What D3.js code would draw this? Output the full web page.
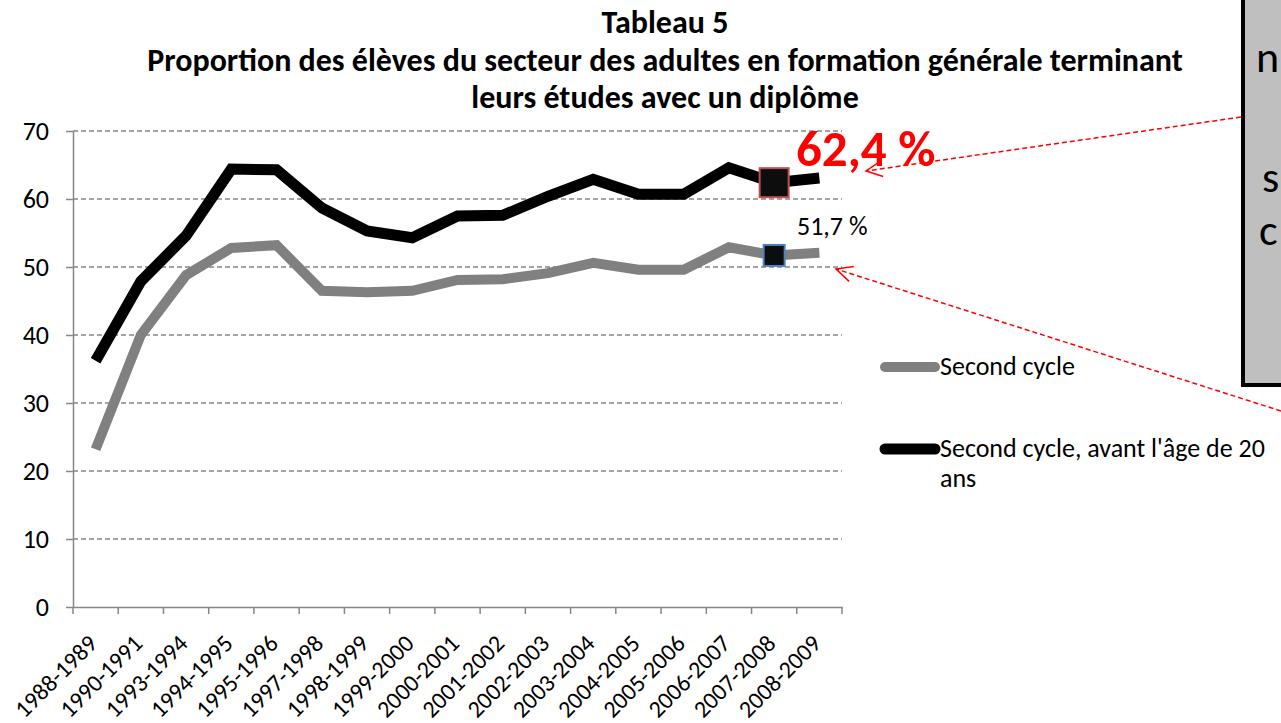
<!DOCTYPE html>
<html>
<head>
<meta charset="utf-8">
<script src="https://cdn.jsdelivr.net/npm/d3@7"></script>
<style>
  body { margin: 0; background: #fff; }
  svg { display: block; }
</style>
</head>
<body>
<div id="chart"></div>
<script>
// Data
const years = ["1988-1989", "1990-1991", "1993-1994", "1994-1995", "1995-1996", "1997-1998",
  "1998-1999", "1999-2000", "2000-2001", "2001-2002", "2002-2003", "2003-2004",
  "2004-2005", "2005-2006", "2006-2007", "2007-2008", "2008-2009"];
const secondCycle = [23.2, 40.0, 48.8, 52.8, 53.2, 46.5, 46.3, 46.5, 48.1, 48.2, 49.1, 50.6,
  49.6, 49.6, 52.9, 51.7, 52.1];
const avant20 = [36.2, 47.9, 54.6, 64.4, 64.3, 58.7, 55.3, 54.3, 57.5, 57.6, 60.4, 62.9,
  60.7, 60.7, 64.6, 62.4, 63.1];
const yTicks = [0, 10, 20, 30, 40, 50, 60, 70];
const titleLines = ["Tableau 5",
  "Proportion des élèves du secteur des adultes en formation générale terminant",
  "leurs études avec un diplôme"];
const seriesNames = ["Second cycle", "Second cycle, avant l'âge de 20"];
const highlightYear = "2007-2008";

const W = 1281, H = 723;
const margin = { top: 131, left: 73, right: 439, bottom: 116 };
const font = "Carlito, Lato, 'Open Sans', sans-serif";

const svg = d3.select('#chart').append('svg')
  .attr('width', W).attr('height', H)
  .style('font-family', font);

const x = d3.scaleBand().domain(years).range([margin.left, W - margin.right]);
const y = d3.scaleLinear().domain([0, 70]).range([H - margin.bottom, margin.top]);
const cx = d => x(d) + x.bandwidth() / 2;

// Title
svg.append('g').selectAll('text')
  .data(titleLines)
  .enter().append('text')
  .attr('x', 665)
  .attr('y', (d, i) => 33 + i * 37.5)
  .attr('text-anchor', 'middle')
  .style('font-weight', 'bold')
  .style('font-size', '32px')
  .style('fill', '#000')
  .text(d => d);

// Gridlines
svg.append('g').selectAll('line')
  .data(yTicks.filter(t => t > 0))
  .enter().append('line')
  .attr('x1', margin.left).attr('x2', W - margin.right)
  .attr('y1', d => y(d)).attr('y2', d => y(d))
  .style('stroke', '#868686')
  .style('stroke-width', 1.3)
  .style('stroke-dasharray', '5,3');

// Axes
const yAxis = svg.append('g')
  .attr('transform', `translate(${margin.left},0)`)
  .call(d3.axisLeft(y).tickValues(yTicks).tickSize(7).tickPadding(17).tickSizeOuter(0));
yAxis.selectAll('path').style('stroke', '#868686').style('stroke-width', 1.5);
yAxis.selectAll('line').style('stroke', '#868686').style('stroke-width', 1.5);
yAxis.selectAll('text').style('font-size', '26px').style('font-family', font).style('fill', '#000');

const xAxis = svg.append('g')
  .attr('transform', `translate(0,${y(0)})`)
  .call(d3.axisBottom(x).tickSize(0).tickPadding(0));
xAxis.select('path').style('stroke', '#868686').style('stroke-width', 1.5);
xAxis.selectAll('text')
  .style('font-size', '24px').style('font-family', font).style('fill', '#000')
  .style('text-anchor', 'end')
  .attr('y', 0)
  .attr('dy', 0)
  .attr('transform', 'translate(3,38) rotate(-45)');
// tick marks at band boundaries
svg.append('g').selectAll('line')
  .data(years.concat(['end']))
  .enter().append('line')
  .attr('x1', (d, i) => margin.left + i * x.step())
  .attr('x2', (d, i) => margin.left + i * x.step())
  .attr('y1', y(0)).attr('y2', y(0) + 7)
  .style('stroke', '#868686').style('stroke-width', 1.5);

// Lines
const line = d3.line().x((d, i) => cx(years[i])).y(d => y(d));
svg.append('path').datum(secondCycle)
  .attr('d', line)
  .style('fill', 'none').style('stroke', '#808080').style('stroke-width', 10);
svg.append('path').datum(avant20)
  .attr('d', line)
  .style('fill', 'none').style('stroke', '#000').style('stroke-width', 11);

// Highlight markers
const hi = years.indexOf(highlightYear);
svg.append('rect')
  .attr('x', cx(highlightYear) - 14.5).attr('y', y(avant20[hi]) - 14.5)
  .attr('width', 29).attr('height', 29)
  .style('fill', '#0d0d0d').style('stroke', '#c0504d').style('stroke-width', 2);
svg.append('rect')
  .attr('x', cx(highlightYear) - 10.5).attr('y', y(secondCycle[hi]) - 10.5)
  .attr('width', 21).attr('height', 21)
  .style('fill', '#0d0d0d').style('stroke', '#4f81bd').style('stroke-width', 2);

// Value labels
const fmt = v => d3.format('.1f')(v).replace('.', ',') + ' %';
svg.append('text')
  .attr('x', 796).attr('y', 166)
  .style('font-size', '51px').style('font-weight', 'bold').style('fill', '#ff0000')
  .text(fmt(avant20[hi]));
svg.append('text')
  .attr('x', 797).attr('y', 235)
  .style('font-size', '26px').style('fill', '#000')
  .text(fmt(secondCycle[hi]));

// Legend
const legend = svg.append('g');
const legendRows = [
  { name: seriesNames[0], color: '#808080', y: 367, w: 10 },
  { name: seriesNames[1], color: '#000', y: 449, w: 11 }
];
legend.selectAll('line').data(legendRows).enter().append('line')
  .attr('x1', 885).attr('x2', 935)
  .attr('y1', d => d.y).attr('y2', d => d.y)
  .style('stroke', d => d.color).style('stroke-width', d => d.w).style('stroke-linecap', 'round');
legend.selectAll('text').data(legendRows).enter().append('text')
  .attr('x', 940).attr('y', d => d.y + 8)
  .style('font-size', '26px').style('fill', '#000')
  .text(d => d.name);
legend.append('text')
  .attr('x', 940).attr('y', 487)
  .style('font-size', '26px').style('fill', '#000')
  .text('ans');

// Call-out box (mostly off the right edge)
svg.append('rect')
  .attr('x', 1243).attr('y', -10).attr('width', 120).attr('height', 395)
  .style('fill', '#bfbfbf').style('stroke', '#000').style('stroke-width', 4);
const boxText = [{ t: 'n', x: 1256, y: 72 }, { t: 's', x: 1262, y: 192 },
  { t: 'c', x: 1259, y: 245 }];
svg.append('g').selectAll('text').data(boxText).enter().append('text')
  .attr('x', d => d.x).attr('y', d => d.y)
  .style('font-size', '44px').style('fill', '#000')
  .text(d => d.t);

// Red dashed arrows (head at x2,y2)
const arrows = [
  { x1: 1241, y1: 117, x2: 866, y2: 171 },
  { x1: 1281, y1: 411, x2: 836, y2: 269 }
];
const arrowG = svg.append('g');
arrowG.selectAll('line').data(arrows).enter().append('line')
  .attr('x1', d => d.x1).attr('y1', d => d.y1)
  .attr('x2', d => d.x2).attr('y2', d => d.y2)
  .style('stroke', '#ff0000').style('stroke-width', 1.5).style('stroke-dasharray', '5,3');
arrowG.selectAll('path').data(arrows).enter().append('path')
  .attr('d', d => {
    const a = Math.atan2(d.y1 - d.y2, d.x1 - d.x2);
    const len = 18, spread = 0.45;
    const p1 = [d.x2 + len * Math.cos(a - spread), d.y2 + len * Math.sin(a - spread)];
    const p2 = [d.x2 + len * Math.cos(a + spread), d.y2 + len * Math.sin(a + spread)];
    return `M${p1[0]},${p1[1]}L${d.x2},${d.y2}L${p2[0]},${p2[1]}`;
  })
  .style('fill', 'none').style('stroke', '#ff0000').style('stroke-width', 1.5);
</script>
</body>
</html>
